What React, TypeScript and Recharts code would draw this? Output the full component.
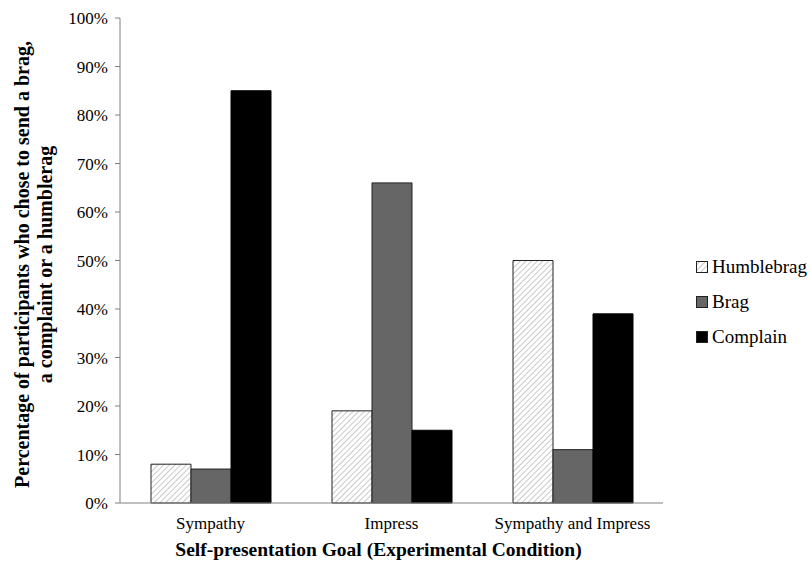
import { Bar, BarChart, XAxis, YAxis } from "recharts";

const conditions = ["Sympathy", "Impress", "Sympathy and Impress"];
const humblebrag = [8, 19, 50];
const brag = [7, 66, 11];
const complain = [85, 15, 39];
const yTicks = [0, 10, 20, 30, 40, 50, 60, 70, 80, 90, 100];

const data = conditions.map((name, i) => ({
  name,
  humblebrag: humblebrag[i],
  brag: brag[i],
  complain: complain[i],
}));

const serif = "Liberation Serif";

const legendItems = [
  { label: "Humblebrag", fill: "url(#hatch)" },
  { label: "Brag", fill: "#666666" },
  { label: "Complain", fill: "#000000" },
];

// legend sits outside the chart so it doesn't eat plot width
function LegendBox() {
  return (
    <div
      style={{
        position: "absolute",
        left: 695,
        top: 249,
        fontFamily: serif,
        fontSize: 19,
        color: "#000",
      }}
    >
      {legendItems.map((it) => (
        <div
          key={it.label}
          style={{ display: "flex", alignItems: "center", height: 35 }}
        >
          <svg width={15} height={14} style={{ marginRight: 2 }}>
            <rect
              x={1.5}
              y={1.5}
              width={11}
              height={11}
              fill={it.fill}
              stroke="#222"
              strokeWidth={1}
            />
          </svg>
          {it.label}
        </div>
      ))}
    </div>
  );
}

function YTitle(props: any) {
  const vb = props.viewBox ?? {};
  const cy = (vb.y ?? 0) + (vb.height ?? 0) / 2;
  return (
    <text
      transform={`translate(0, ${cy + 4}) rotate(-90)`}
      textAnchor="middle"
      fontFamily={serif}
      fontWeight="bold"
      fontSize={20}
      fill="#000"
    >
      <tspan x={0} y={29}>
        Percentage of participants who chose to send a brag,
      </tspan>
      <tspan x={0} y={52}>
        a complaint or a humblerag
      </tspan>
    </text>
  );
}

function XTitle(props: any) {
  const vb = props.viewBox ?? {};
  const cx = (vb.x ?? 0) + (vb.width ?? 0) / 2 - 13;
  return (
    <text
      x={cx}
      y={556}
      textAnchor="middle"
      fontFamily={serif}
      fontWeight="bold"
      fontSize={19.5}
      fill="#000"
    >
      Self-presentation Goal (Experimental Condition)
    </text>
  );
}

export default function App() {
  return (
    <div
      style={{
        position: "absolute",
        left: 0,
        top: 0,
        width: 810,
        height: 564,
        background: "#fff",
        fontFamily: serif,
      }}
    >
      <svg width={0} height={0} style={{ position: "absolute" }}>
        <defs>
          <pattern
            id="hatch"
            patternUnits="userSpaceOnUse"
            width={4}
            height={4}
            patternTransform="rotate(45)"
          >
            <rect width={4} height={4} fill="#ffffff" />
            <line x1={0} y1={0} x2={0} y2={4} stroke="#bcbcbc" strokeWidth={1.6} />
          </pattern>
        </defs>
      </svg>
      <BarChart
        width={810}
        height={564}
        data={data}
        margin={{ top: 18, right: 147, bottom: 0, left: 0 }}
        barSize={40}
        barGap={0}
      >
        <XAxis
          dataKey="name"
          tickLine={false}
          axisLine={{ stroke: "#808080" }}
          height={61}
          tick={{ fontFamily: serif, fontSize: 17, fill: "#000" }}
          tickMargin={8}
          label={<XTitle />}
        />
        <YAxis
          width={120}
          domain={[0, 100]}
          ticks={yTicks}
          interval={0}
          tickFormatter={(v) => `${v}%`}
          tickSize={5}
          tickMargin={7}
          axisLine={{ stroke: "#808080" }}
          tickLine={{ stroke: "#808080" }}
          tick={{ fontFamily: serif, fontSize: 17, fill: "#000" }}
          label={<YTitle />}
        />
        <Bar dataKey="humblebrag" fill="url(#hatch)" stroke="#222" strokeWidth={1} isAnimationActive={false} />
        <Bar dataKey="brag" fill="#666666" stroke="#222" strokeWidth={1} isAnimationActive={false} />
        <Bar dataKey="complain" fill="#000000" stroke="#000" strokeWidth={1} isAnimationActive={false} />
      </BarChart>
      <LegendBox />
    </div>
  );
}
